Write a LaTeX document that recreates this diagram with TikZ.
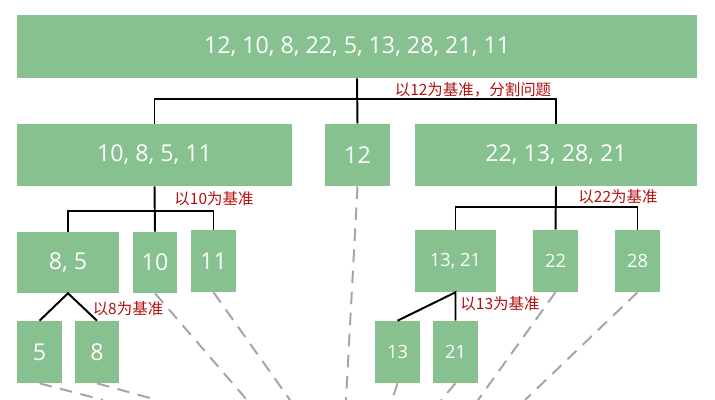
\documentclass[tikz,border=0pt]{standalone}
\usepackage{fontspec}
\setmainfont{Open Sans}
\newfontfamily\cjk{Noto Sans CJK SC}
\usetikzlibrary{positioning}
\definecolor{boxgreen}{RGB}{134,193,143}
\definecolor{notered}{RGB}{180,15,15}
\definecolor{dashgray}{RGB}{165,165,165}

\begin{document}
\begin{tikzpicture}[
  x=0.025cm, y=-0.025cm,
  part/.style={fill=boxgreen, text=white, inner sep=0pt, minimum height=1.55cm},
  big/.style={font=\fontsize{16.5}{18}\selectfont},
  small/.style={font=\fontsize{13}{15}\selectfont},
  tie/.style={line width=1.4pt},
  merge/.style={dashgray, line width=1.4pt, dash pattern=on 9pt off 6pt},
  note/.style={text=notered, font=\cjk\fontsize{11}{13}\selectfont, inner sep=0pt}
]
\useasboundingbox (0,0) rectangle (715,400);

\node[part, big, minimum width=17cm, minimum height=1.575cm] (all) at (357,46.5) {12, 10, 8, 22, 5, 13, 28, 21, 11};

\node[part, big, minimum width=6.875cm] (lpart) at (154.5,155) {10, 8, 5, 11};
\node[part, big, minimum width=1.625cm] (p12) at (357.5,155) {12};
\node[part, big, minimum width=7.05cm] (rpart) at (556,155) {22, 13, 28, 21};

\node[part, big, minimum width=2.55cm, minimum height=1.525cm] (p85) at (68,262.5) {8, 5};
\node[part, big, minimum width=1.1cm, minimum height=1.525cm] (p10) at (155,262.5) {10};
\node[part, big, minimum width=1.125cm] (p11) at (213.5,261) {11};
\node[part, small, minimum width=2.025cm] (p1321) at (455.5,261) {13, 21};
\node[part, small, minimum width=1.125cm] (p22) at (555.5,261) {22};
\node[part, small, minimum width=1.125cm] (p28) at (637.5,261) {28};

\node[part, big, minimum width=1.125cm] (p5) at (39.5,352) {5};
\node[part, big, minimum width=1.1cm] (p8) at (97,352) {8};
\node[part, small, minimum width=1.125cm] (p13) at (397.5,352) {13};
\node[part, small, minimum width=1.125cm] (p21) at (455.5,352) {21};

\coordinate (j1) at (357,99);
\coordinate (j2) at (155,211);
\coordinate (j3) at (556,207);

\draw[tie] (all.south) -- (p12.north);
\draw[tie] (lpart.north) |- (j1) -| (rpart.north);
\draw[tie] (lpart.south) -- (p10.north);
\draw[tie] (p85.north) |- (j2) -| (p11.north);
\draw[tie] (rpart.south) -- (p22.north);
\draw[tie] (p1321.north) |- (j3) -| (p28.north);
\draw[tie] (p5.north) -- (p85.south) -- (p8.north);
\draw[tie] (p13.north) -- (p1321.south) -- (p21.north);

\node[note] (n12) at (473,90) {以12为基准，分割问题};
\node[note] (n10) at (214,199) {以10为基准};
\node[note] (n8) at (128,309) {以8为基准};
\node[note] (n22) at (618,197) {以22为基准};
\node[note] (n13) at (500,304) {以13为基准};

\coordinate (e5) at (103,400);
\coordinate (e8) at (157,400);
\coordinate (e10) at (247,400);
\coordinate (e11) at (290,400);
\coordinate (e12) at (346,400);
\coordinate (e13) at (392,400);
\coordinate (e21) at (441,400);
\coordinate (e22) at (478,400);
\coordinate (e28) at (525,400);

\draw[merge] (p5.south) -- (e5);
\draw[merge] (p8.south) -- (e8);
\draw[merge] (p10.south) -- (e10);
\draw[merge] (p11.south) -- (e11);
\draw[merge] (p12.south) -- (e12);
\draw[merge] (p13.south) -- (e13);
\draw[merge] (p21.south) -- (e21);
\draw[merge] (p22.south) -- (e22);
\draw[merge] (p28.south) -- (e28);
\end{tikzpicture}
\end{document}
